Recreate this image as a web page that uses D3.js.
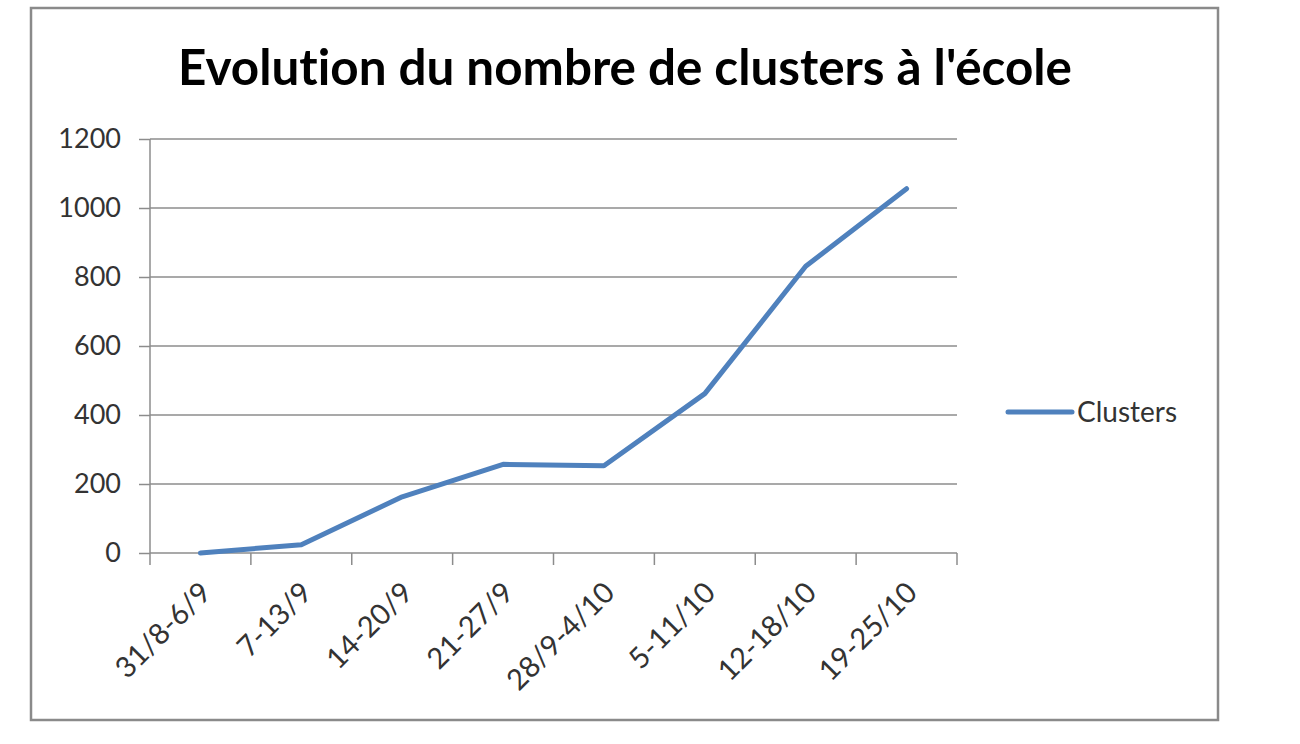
<!DOCTYPE html>
<html>
<head>
<meta charset="utf-8">
<script src="https://cdn.jsdelivr.net/npm/d3@7"></script>
<style>
  body { margin: 0; background: #fff; }
  svg { display: block; }
  text { font-family: Lato, "Noto Sans", sans-serif; fill: #333; font-variant-ligatures: none; }
</style>
</head>
<body>
<svg id="chart"></svg>
<script>
const TITLE = "Evolution du nombre de clusters à l'école";
const SERIES_NAME = 'Clusters';
const weeks = ['31/8-6/9', '7-13/9', '14-20/9', '21-27/9', '28/9-4/10', '5-11/10', '12-18/10', '19-25/10'];
const clusters = [0, 24, 163, 257, 253, 462, 831, 1056];
const yTicks = [0, 200, 400, 600, 800, 1000, 1200];

const WIDTH = 1300;
const HEIGHT = 744;
const COLOR = '#4f81bd';
const GRID = '#8c8c8c';

const plot = { left: 150, right: 957, top: 139, bottom: 553 };

const svg = d3.select('#chart')
  .attr('width', WIDTH)
  .attr('height', HEIGHT);

// outer frame
svg.append('rect')
  .attr('x', 31).attr('y', 8)
  .attr('width', 1187).attr('height', 712)
  .attr('fill', '#fff')
  .attr('stroke', '#8a8a8a')
  .attr('stroke-width', 2.5);

const x = d3.scaleBand()
  .domain(weeks)
  .range([plot.left, plot.right])
  .padding(0);

const y = d3.scaleLinear()
  .domain([0, 1200])
  .range([plot.bottom, plot.top]);

// title, sized to the reference width
const title = svg.append('text')
  .attr('x', 625)
  .attr('y', 85)
  .attr('text-anchor', 'middle')
  .style('font-weight', 'bold')
  .style('font-size', '44px')
  .style('fill', '#000')
  .text(TITLE);
const tw = title.node().getComputedTextLength();
title.style('font-size', `${44 * 894 / tw}px`);

// y axis with gridlines
const yAxis = svg.append('g')
  .attr('transform', `translate(${plot.left},0)`)
  .call(d3.axisLeft(y).tickValues(yTicks).tickFormat(d3.format('d')).tickSize(11).tickPadding(18));
yAxis.select('.domain').remove();
yAxis.selectAll('.tick line').attr('stroke', GRID).attr('stroke-width', 1.5);
yAxis.selectAll('.tick text')
  .style('font-size', '27px')
  .style('fill', '#333');

svg.append('g')
  .selectAll('line')
  .data(yTicks)
  .join('line')
  .attr('x1', plot.left).attr('x2', plot.right)
  .attr('y1', d => y(d)).attr('y2', d => y(d))
  .attr('stroke', GRID)
  .attr('stroke-width', 1.5);

svg.append('line')
  .attr('x1', plot.left).attr('x2', plot.left)
  .attr('y1', plot.top).attr('y2', plot.bottom)
  .attr('stroke', GRID)
  .attr('stroke-width', 1.5);

// x axis: ticks on category boundaries
const edges = weeks.map(w => x(w)).concat([x.range()[1]]);
svg.append('g')
  .selectAll('line')
  .data(edges)
  .join('line')
  .attr('x1', d => d).attr('x2', d => d)
  .attr('y1', plot.bottom).attr('y2', plot.bottom + 12)
  .attr('stroke', GRID)
  .attr('stroke-width', 1.5);

svg.append('g')
  .selectAll('text')
  .data(weeks)
  .join('text')
  .attr('transform', d => `translate(${x(d) + x.bandwidth() / 2 - 2},${plot.bottom + 27}) rotate(-45)`)
  .attr('text-anchor', 'end')
  .attr('dy', '0.7em')
  .style('font-size', '29px')
  .text(d => d);

// series line
const line = d3.line()
  .x((d, i) => x(weeks[i]) + x.bandwidth() / 2)
  .y(d => y(d));

svg.append('path')
  .datum(clusters)
  .attr('d', line)
  .attr('fill', 'none')
  .attr('stroke', COLOR)
  .attr('stroke-width', 5)
  .attr('stroke-linejoin', 'round')
  .attr('stroke-linecap', 'round');

// legend
const legend = svg.append('g').attr('transform', 'translate(1008,412)');
legend.append('line')
  .attr('x1', 0).attr('x2', 64)
  .attr('stroke', COLOR)
  .attr('stroke-width', 5)
  .attr('stroke-linecap', 'round');
legend.append('text')
  .attr('x', 69)
  .attr('dy', '0.36em')
  .style('font-size', '28px')
  .text(SERIES_NAME);
</script>
</body>
</html>
